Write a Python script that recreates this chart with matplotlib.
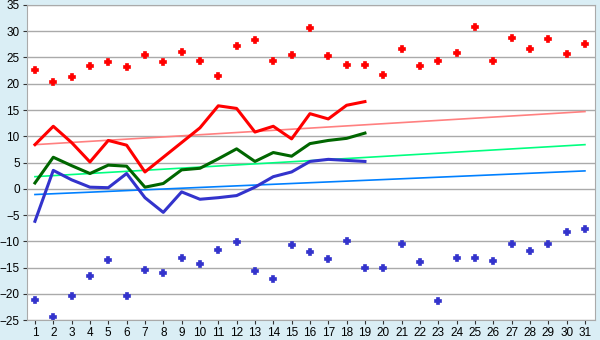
import matplotlib
matplotlib.use("Agg")
from matplotlib import pyplot as plt
import numpy as np

days = list(range(1, 32))

# daily extremes (scatter)
max_pts = [22.7, 20.4, 21.2, 23.4, 24.2, 23.1, 25.5, 24.2, 26.1, 24.4,
           21.5, 27.1, 28.4, 24.4, 25.4, 30.7, 25.2, 23.6, 23.6, 21.7,
           26.7, 23.3, 24.4, 25.9, 30.9, 24.4, 28.8, 26.7, 28.6, 25.7, 27.5]
min_pts = [-21.2, -24.4, -20.4, -16.6, -13.5, -20.4, -15.4, -16.0, -13.2, -14.3,
           -11.6, -10.1, -15.6, -17.2, -10.7, -12.0, -13.3, -9.9, -15.1, -15.1,
           -10.5, -13.9, -21.4, -13.2, -13.2, -13.7, -10.5, -11.8, -10.5, -8.2, -7.6]

# measured lines, days 1-19
line_days = list(range(1, 20))
max_line = [8.4, 11.9, 8.8, 5.1, 9.2, 8.3, 3.2, 6.0, 8.8, 11.6,
            15.8, 15.3, 10.8, 11.9, 9.5, 14.3, 13.3, 15.9, 16.6]
mean_line = [1.1, 6.0, 4.4, 2.9, 4.5, 4.3, 0.3, 1.0, 3.6, 3.9,
             5.7, 7.6, 5.2, 6.9, 6.2, 8.6, 9.2, 9.6, 10.6]
min_line = [-6.2, 3.5, 1.7, 0.3, 0.2, 2.9, -1.7, -4.5, -0.6, -2.0,
            -1.7, -1.3, 0.3, 2.3, 3.2, 5.2, 5.6, 5.4, 5.2]

# long-term normals (straight lines from day 1 to day 31)
trend_days = [1, 31]
max_trend = [8.4, 14.7]
mean_trend = [2.3, 8.4]
min_trend = [-1.1, 3.4]

bg = "#daeef5"
plt.rcParams['font.family'] = ['Liberation Sans', 'DejaVu Sans']
fig = plt.figure(figsize=(6, 3.4), dpi=100, facecolor=bg)
ax = fig.add_axes([0.0445, 0.0588, 0.9472, 0.9265])
ax.set_facecolor("white")

ax.plot(trend_days, max_trend, color="#ff8080", lw=1.2)
ax.plot(trend_days, mean_trend, color="#00ff80", lw=1.2)
ax.plot(trend_days, min_trend, color="#0080ff", lw=1.2)

ax.plot(line_days, max_line, color="#ff0000", lw=2.2)
ax.plot(line_days, mean_line, color="#006600", lw=2.2)
ax.plot(line_days, min_line, color="#3333cc", lw=2.2)

ax.plot(days, max_pts, ls="none", marker="P", ms=5, color="#ff0000", mew=1.2)
ax.plot(days, min_pts, ls="none", marker="P", ms=5, color="#3333cc", mew=1.2)

ax.set_xlim(0.55, 31.55)
ax.set_ylim(-25, 35)
ax.set_xticks(days)
ax.set_yticks(np.arange(-25, 36, 5))
ax.yaxis.grid(True, color="#aaaaaa", lw=1)
ax.set_axisbelow(True)
for s in ax.spines.values():
    s.set_color("#aaaaaa")
ax.tick_params(axis="both", labelsize=8.5, color="#333333", length=3, pad=2)

fig.savefig("out.png", dpi=100, facecolor=bg)
